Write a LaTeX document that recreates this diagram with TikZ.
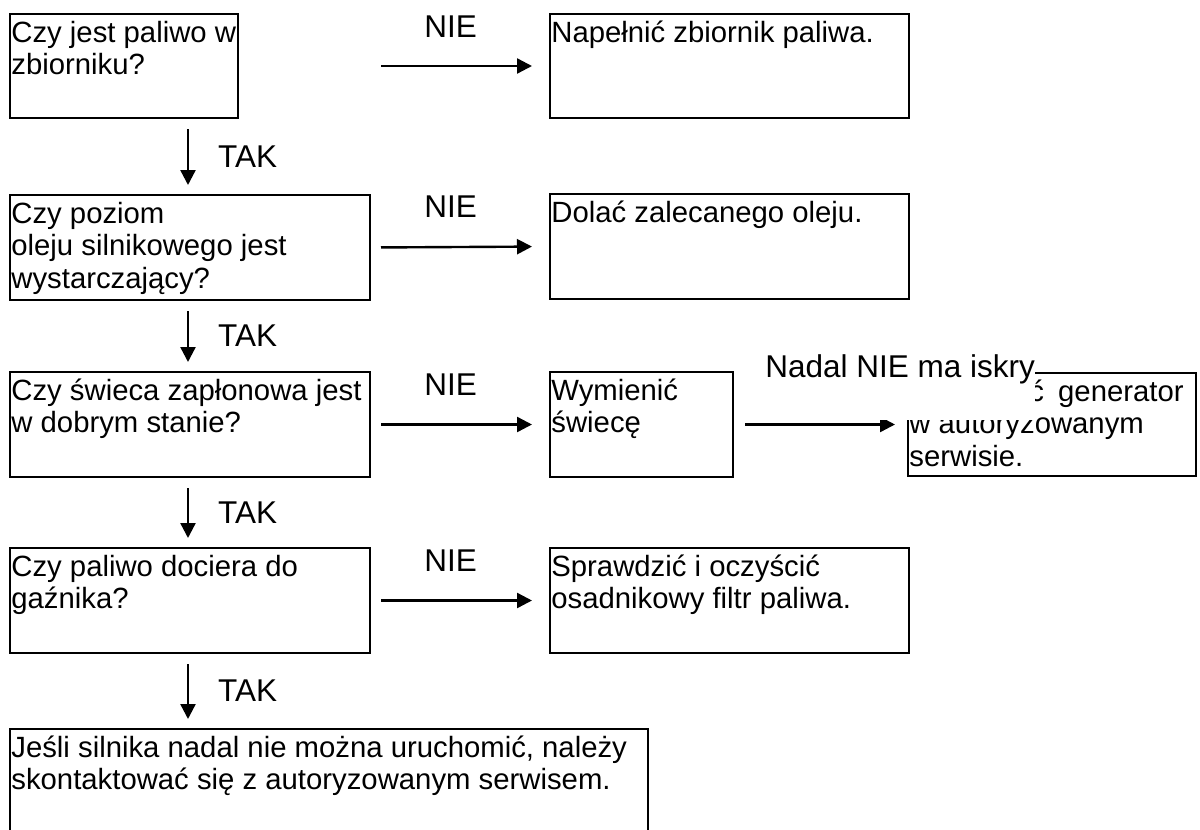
\documentclass[tikz,border=0pt]{standalone}
\usepackage{fontspec}
\setmainfont{Liberation Sans}
\usetikzlibrary{arrows.meta,calc}
\newcommand\mlines[1]{\vtop{\baselineskip=16.25pt\lineskiplimit=-50pt\lineskip=0pt\halign{##\hfil\cr#1\crcr}}}
\begin{document}
\begin{tikzpicture}[x=0.5pt,y=-0.5pt,
  box/.style={draw, line width=1pt, rectangle, inner sep=0pt, anchor=north west},
  txt/.style={anchor=base west, inner sep=0pt, font=\fontsize{14.65pt}{16.25pt}\selectfont},
  lbl/.style={inner sep=0pt, font=\fontsize{15.75pt}{18pt}\selectfont},
  arr/.style={line width=1.2pt, -{Triangle[length=7.5pt,width=7.5pt]}},
  down/.style={arr, shorten <=5pt, shorten >=4.5pt},
  hor/.style={arr, shorten <=5pt, shorten >=8.5pt},
  tak/.style={lbl, midway, anchor=west, xshift=14.5pt},
  nie/.style={lbl, anchor=base west}
]
\path[use as bounding box] (0,0) rectangle (1200,830);
\clip (0,0) rectangle (1200,830);

% left column boxes
\node[box, minimum width=114pt, minimum height=52pt] (b1) at (9,13) {};
\node[box, minimum width=180pt, minimum height=52.5pt] (b2) at (9,194) {};
\node[box, minimum width=180pt, minimum height=52.5pt] (b3) at (9,371) {};
\node[box, minimum width=180pt, minimum height=52.5pt] (b4) at (9,547) {};
\node[box, minimum width=319pt, minimum height=60pt] (b5) at (9,728) {};

% right column boxes
\node[box, minimum width=179.5pt, minimum height=52pt] (n1) at (549,13) {};
\node[box, minimum width=179.5pt, minimum height=52.5pt] (n2) at (549,193) {};
\node[box, minimum width=91.5pt, minimum height=52.5pt] (n3) at (549,371) {};
\node[box, minimum width=144pt, minimum height=51.5pt] (gen) at (907,372) {};
\node[box, minimum width=179.5pt, minimum height=52.5pt] (n4) at (549,547) {};

% texts
\node[txt] (t1) at ([shift={(2,29)}]b1.north west) {\mlines{Czy jest paliwo w\cr zbiorniku?}};
\node[txt] (t2) at ([shift={(2,29)}]b2.north west) {\mlines{Czy poziom\cr oleju silnikowego jest\cr wystarczający?}};
\node[txt] (t3) at ([shift={(2,29)}]b3.north west) {\mlines{Czy świeca zapłonowa jest\cr w dobrym stanie?}};
\node[txt] (t4) at ([shift={(2,29)}]b4.north west) {\mlines{Czy paliwo dociera do\cr gaźnika?}};
\node[txt] (t5) at ([shift={(2,29)}]b5.north west) {\mlines{Jeśli silnika nadal nie można uruchomić, należy\cr skontaktować się z autoryzowanym serwisem.}};
\node[txt] (s1) at ([shift={(2,29)}]n1.north west) {Napełnić zbiornik paliwa.};
\node[txt] (s2) at ([shift={(2,29)}]n2.north west) {Dolać zalecanego oleju.};
\node[txt] (s3) at ([shift={(2,29)}]n3.north west) {\mlines{Wymienić\cr świecę}};
\node[txt] (s4) at ([shift={(2,29)}]n4.north west) {\mlines{Sprawdzić i oczyścić\cr osadnikowy filtr paliwa.}};
\node[txt] (sg) at ([shift={(2,29)}]gen.north west) {\mlines{\hspace*{60pt}ć\hspace*{3pt} generator\cr w autoryzowanym\cr serwisie.}};

% TAK arrows
\draw[down] ([shift={(179,0)}]b1.south west) -- ([shift={(179,0)}]b2.north west) node[tak] (tak1) {TAK};
\draw[down] ([shift={(179,0)}]b2.south west) -- ([shift={(179,0)}]b3.north west) node[tak] (tak2) {TAK};
\draw[down] ([shift={(179,0)}]b3.south west) -- ([shift={(179,0)}]b4.north west) node[tak] (tak3) {TAK};
\draw[down] ([shift={(179,0)}]b4.south west) -- ([shift={(179,0)}]b5.north west) node[tak] (tak4) {TAK};

% NIE arrows
\draw[arr, shorten <=71pt, shorten >=8.5pt] (b1.east) -- (n1.west);
\draw[hor] (b2.east) -- (n2.west);
\draw[hor] (b3.east) -- (n3.west);
\draw[hor] (b4.east) -- (n4.west);
\draw[arr, shorten <=5.5pt, shorten >=6pt] (n3.east) -- (gen.west);

\node[nie] (nie1) at (424,37) {NIE};
\node[nie] (nie2) at (424,217) {NIE};
\node[nie] (nie3) at (424,395) {NIE};
\node[nie] (nie4) at (424,571) {NIE};

% label over the generator box
\node[lbl, fill=white, anchor=base west, text height=16pt, text depth=21.5pt] (iskra) at (765,377) {Nadal NIE ma iskry};
\end{tikzpicture}
\end{document}
